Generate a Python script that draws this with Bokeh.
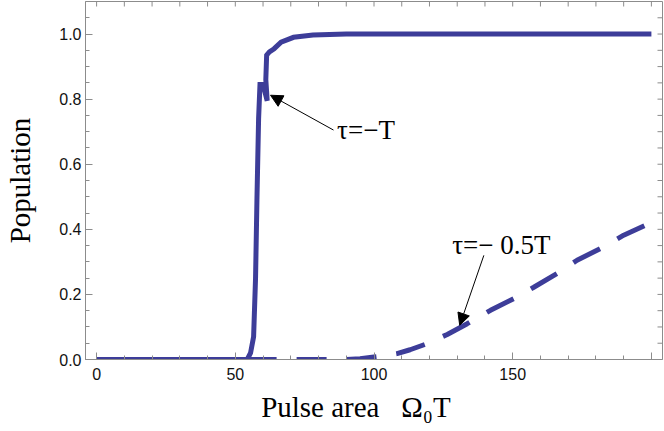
import math
from bokeh.plotting import figure
from bokeh.models import (Range1d, FixedTicker, Arrow, NormalHead, Label)
from bokeh.embed import file_html
from bokeh.resources import INLINE

# ---- data ----
x_solid = [0, 54.3, 55.5, 56.6, 57.3, 57.8, 58.4, 58.9, 60.0, 61.5, 61.0, 61.3, 62.3, 64.0,
           66.5, 71.0, 78.0, 90, 120, 160, 200]
y_solid = [0, 0, 0.02, 0.07, 0.25, 0.49, 0.74, 0.845, 0.845, 0.795, 0.86, 0.935, 0.945, 0.955,
           0.975, 0.99, 0.997, 1.0, 1.0, 1.0, 1.0]

x_dash = [0, 90, 95, 100, 104, 108.3, 113, 118.6, 126.4, 133.6, 142, 150.4, 157.6, 166, 173.2,
          182.8, 190, 199, 200]
y_dash = [0, 0, 0.002, 0.008, 0.012, 0.018, 0.03, 0.047, 0.077, 0.11, 0.151, 0.187, 0.222, 0.264,
          0.305, 0.346, 0.382, 0.417, 0.42]

x_major = [0, 50, 100, 150, 200]
x_minor = list(range(0, 201, 10))
x_labels = {0: "0", 50: "50", 100: "100", 150: "150", 200: ""}
y_major = [0.0, 0.2, 0.4, 0.6, 0.8, 1.0]
y_minor = [round(0.05 * i, 2) for i in range(0, 22)]
y_labels = {0.0: "0.0", 0.2: "0.2", 0.4: "0.4", 0.6: "0.6", 0.8: "0.8", 1.0: "1.0"}

label_solid = "τ=−T"
label_dash = "τ=− 0.5T"
NB = "\u00a0"
x_title = "Pulse area" + NB * 3 + "Ω₀T" + NB * 5
y_title = "Population"

LINE = "#3d3d99"
AX = "#8c8c8c"
TXT = "#111111"
SERIF = "Liberation Serif"

X0, X1 = -4, 204
Y0, Y1 = 0, 1.1

p = figure(width=664, height=431, output_backend="svg", toolbar_location=None,
           x_range=Range1d(X0, X1), y_range=Range1d(Y0, Y1),
           min_border_left=85, min_border_right=2, min_border_top=1, min_border_bottom=72)
p.grid.visible = False
p.outline_line_color = AX
p.outline_line_width = 1
p.background_fill_color = "white"
p.border_fill_color = "white"

p.line(x_dash, y_dash, line_color=LINE, line_width=5, line_dash="30 20", line_cap="butt")
p.line(x_solid, y_solid, line_color=LINE, line_width=5, line_join="miter")

# ticks on the top and right frame edges (inside), at the tick values
p.ray(x=x_minor, y=[Y1] * len(x_minor), length=5, length_units="screen",
      angle=-math.pi / 2, line_color=AX, line_width=1)
p.ray(x=[X1] * len(y_minor), y=y_minor, length=5, length_units="screen",
      angle=math.pi, line_color=AX, line_width=1)


def style(ax, major, minor, labels):
    ax.ticker = FixedTicker(ticks=major, minor_ticks=minor)
    ax.axis_line_color = AX
    ax.major_tick_line_color = AX
    ax.minor_tick_line_color = AX
    ax.major_tick_in = 7
    ax.major_tick_out = 0
    ax.minor_tick_in = 4
    ax.minor_tick_out = 0
    ax.major_label_overrides = labels
    ax.major_label_text_font = "Liberation Sans"
    ax.major_label_text_font_size = "16px"
    ax.major_label_text_color = TXT


xa = p.xaxis[0]
style(xa, x_major, x_minor, x_labels)
xa.major_label_standoff = 8
xa.axis_label = x_title
xa.axis_label_text_font = SERIF
xa.axis_label_text_font_style = "normal"
xa.axis_label_text_font_size = "29px"
xa.axis_label_text_color = "black"
xa.axis_label_standoff = 8

ya = p.yaxis[0]
style(ya, y_major, y_minor, y_labels)
ya.major_label_standoff = 4
ya.axis_label = y_title
ya.axis_label_text_font = SERIF
ya.axis_label_text_font_style = "normal"
ya.axis_label_text_font_size = "29px"
ya.axis_label_text_color = "black"
ya.axis_label_text_line_height = 0.9
ya.axis_label_standoff = 20

p.add_layout(Arrow(x_start=85.4, y_start=0.705, x_end=62.7, y_end=0.812,
                   line_color="black", line_width=1,
                   end=NormalHead(size=12, fill_color="black", line_color="black")))
p.add_layout(Arrow(x_start=139.6, y_start=0.32, x_end=130.9, y_end=0.105,
                   line_color="black", line_width=1,
                   end=NormalHead(size=12, fill_color="black", line_color="black")))
p.add_layout(Label(x=86.7, y=0.705, text=label_solid, text_font=SERIF,
                   text_font_size="27px", text_baseline="middle", text_color="black"))
p.add_layout(Label(x=128.2, y=0.351, text=label_dash, text_font=SERIF,
                   text_font_size="27px", text_baseline="middle", text_color="black"))

open("out.html", "w").write(file_html(p, INLINE))
